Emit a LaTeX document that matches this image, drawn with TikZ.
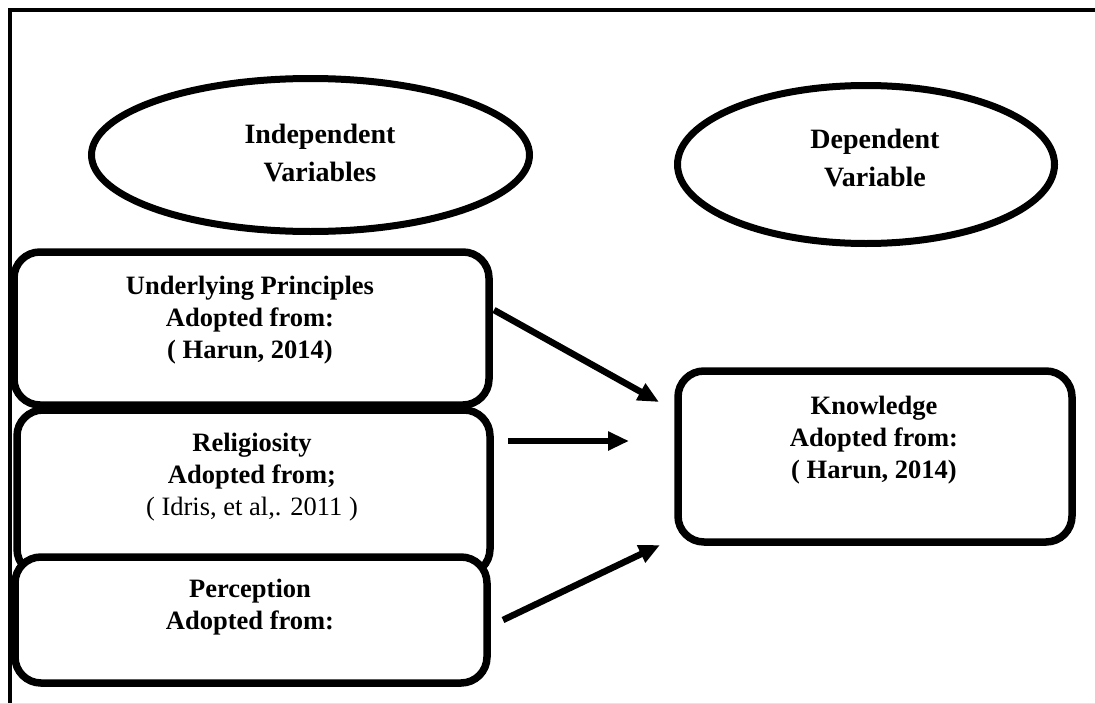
\documentclass[tikz,border=0pt]{standalone}
\usepackage{fontspec}
\setmainfont{Liberation Serif}
\usetikzlibrary{shapes.geometric,arrows.meta,calc}
\begin{document}
\begin{tikzpicture}[x=1pt,y=-1pt,
  oval/.style={ellipse,draw,line width=7pt,inner sep=0pt},
  otxt/.style={align=center,inner sep=0pt,font=\fontsize{28}{38}\selectfont\bfseries},
  vbox/.style={draw,line width=7.5pt,rounded corners=26pt,inner sep=0pt,fill=white},
  vtxt/.style={align=center,inner sep=0pt,font=\fontsize{26.5}{32}\selectfont\bfseries},
  arr/.style={line width=6.5pt,-{Triangle[length=21pt,width=18pt]}}]
\useasboundingbox (0,0) rectangle (1095,704);
\fill[white] (0,0) rectangle (1095,704);
\draw[line width=4pt] (9.5,704) -- (9.5,9.5) -- (1095,9.5);
\draw[gray!20,line width=1pt] (0,703.5) -- (1095,703.5);

% ellipses
\node[oval,minimum width=438pt,minimum height=153pt] (iv) at (310.5,155) {};
\node[oval,minimum width=377pt,minimum height=158pt] (dv) at (866,164.5) {};
\node[otxt] (ivt) at (320,152.5) {Independent\\Variables};
\node[otxt] (dvt) at (875,157.5) {Dependent\\Variable};

% boxes
\node[vbox,minimum width=475pt,minimum height=153pt] (b1) at (251.5,328.5) {};
\node[vbox,minimum width=473pt,minimum height=165pt] (b2) at (253.5,492.5) {};
\node[vbox,minimum width=472pt,minimum height=126pt] (b3) at (251,620) {};
\node[vbox,minimum width=394pt,minimum height=171pt] (kb) at (875,456.5) {};

\node[vtxt] (b1t) at (250,320) {Underlying Principles\\Adopted from:\\( Harun, 2014)};
\node[vtxt] (b2t) at (252,477) {Religiosity\\Adopted from;\\{\mdseries ( Idris, et al,. 2011 )}};
\node[vtxt] (b3t) at (250,607.5) {Perception\\Adopted from:};
\node[vtxt] (kt) at (874,440) {Knowledge\\Adopted from:\\( Harun, 2014)};

% arrows
\coordinate (a1s) at (494,310);
\coordinate (a1e) at (659,402);
\coordinate (a2s) at (508,441);
\coordinate (a2e) at (629,441);
\coordinate (a3s) at (503,620);
\coordinate (a3e) at (660,545);
\draw[arr] (a1s) -- (a1e);
\draw[arr] (a2s) -- (a2e);
\draw[arr] (a3s) -- (a3e);
\end{tikzpicture}
\end{document}
